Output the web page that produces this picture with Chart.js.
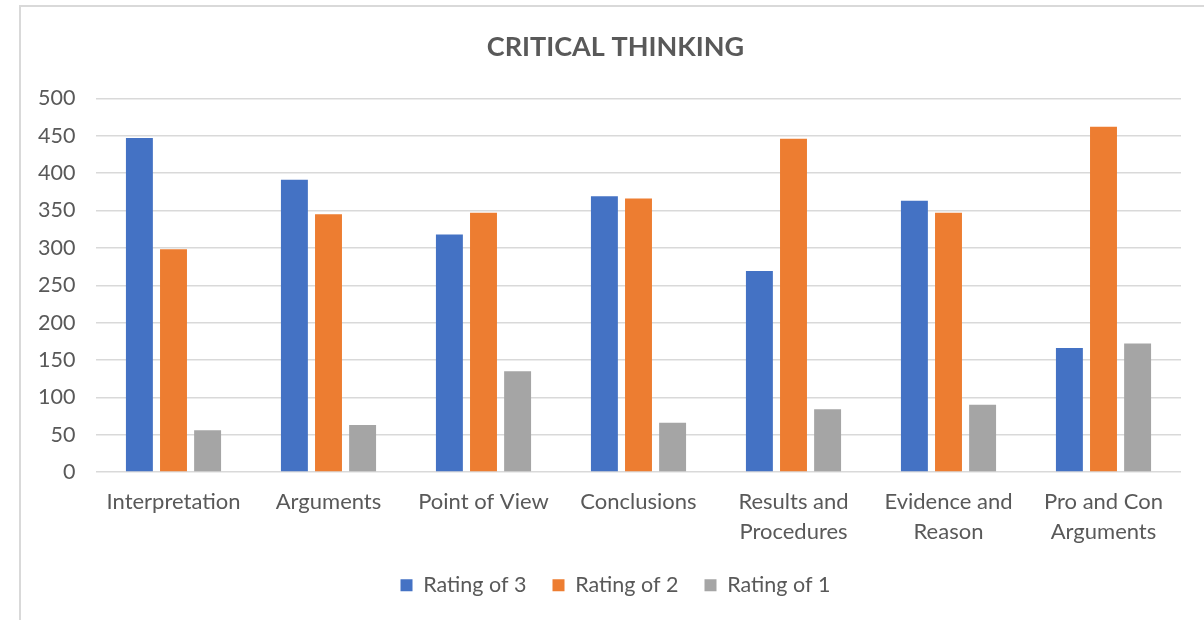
<!DOCTYPE html>
<html>
<head>
<meta charset="utf-8">
<script src="https://cdn.jsdelivr.net/npm/chart.js@4/dist/chart.umd.min.js"></script>
<style>
html,body{margin:0;padding:0;background:#fff;overflow:hidden;}
#frame{position:absolute;left:19px;top:5px;width:1220px;height:700px;border:2px solid #d9d9d9;box-sizing:border-box;}
#wrap{position:absolute;left:0;top:0;width:1204px;height:620px;}
</style>
</head>
<body>
<div id="frame"></div>
<div id="wrap"><canvas id="c" width="1204" height="620"></canvas></div>
<script>
const categories = ["Interpretation", "Arguments", "Point of View", "Conclusions", ["Results and", "Procedures"], ["Evidence and", "Reason"], ["Pro and Con", "Arguments"]];
const rating3 = [447, 391, 318, 369, 269, 363, 166];
const rating2 = [298, 345, 347, 366, 446, 347, 462];
const rating1 = [56, 63, 135, 66, 84, 90, 172];
const seriesNames = ["Rating of 3", "Rating of 2", "Rating of 1"];
const titleText = "CRITICAL THINKING";

const FONT = "Lato, 'Liberation Sans', sans-serif";
const TXT = "#595959";

new Chart(document.getElementById('c'), {
  type: 'bar',
  data: {
    labels: categories,
    datasets: [
      {label: seriesNames[0], data: rating3, backgroundColor: '#4472C4'},
      {label: seriesNames[1], data: rating2, backgroundColor: '#ED7D31'},
      {label: seriesNames[2], data: rating1, backgroundColor: '#A5A5A5'}
    ]
  },
  options: {
    responsive: false,
    animation: false,
    devicePixelRatio: 1,
    datasets: {bar: {categoryPercentage: 0.66, barPercentage: 0.79}},
    layout: {padding: {left: 50, right: 23, top: 0, bottom: 14}},
    plugins: {
      title: {display: true, text: titleText, color: TXT, font: {family: FONT, size: 27, weight: 'bold'}, padding: {top: 31, bottom: 35}},
      legend: {position: 'bottom', labels: {color: TXT, font: {family: FONT, size: 21.5}, boxWidth: 12, boxHeight: 12, padding: 26}},
      tooltip: {enabled: false}
    },
    scales: {
      x: {
        afterFit: (s) => { s.height = s.height - 13; },
        grid: {display: false, drawTicks: false},
        border: {display: false},
        ticks: {color: TXT, font: {family: FONT, size: 22, lineHeight: 1.35}, padding: 15, maxRotation: 0, autoSkip: false}
      },
      y: {
        min: 0, max: 500,
        afterFit: (s) => { s.width = 46; },
        grid: {color: '#d9d9d9', lineWidth: 1.5, drawTicks: false},
        border: {display: false},
        ticks: {stepSize: 50, color: TXT, font: {family: FONT, size: 21.5}, mirror: true, crossAlign: 'far', padding: -58}
      }
    }
  }
});
</script>
</body>
</html>
